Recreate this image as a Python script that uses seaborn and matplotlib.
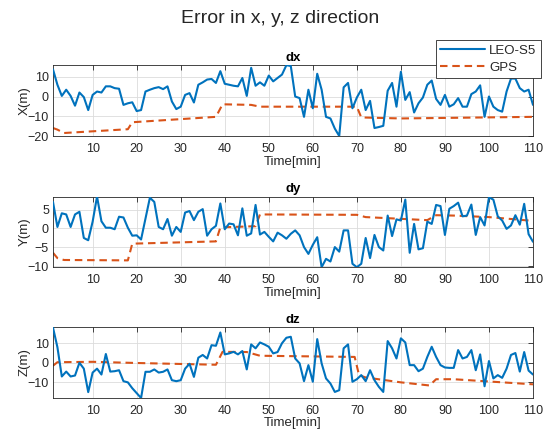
import numpy as np
import pandas as pd
import matplotlib
matplotlib.use("Agg")
import matplotlib.pyplot as plt
import seaborn as sns

# ---------------- data ----------------
time_min = list(range(1, 111))

leo_dx = [13.6, 5.9, 0.3, 3.4, 0.3, -4.6, 2.0, -0.3, -6.8, 0.8,
          2.5, 2.0, 5.1, 5.1, 4.2, 3.9, -4.2, -3.4, -2.9, -7.3,
          -6.8, 2.5, 3.4, 4.2, 4.7, 3.7, 5.1, -2.5, -6.3, -5.1,
          0.8, 1.7, -3.0, 5.9, 7.1, 8.5, 8.8, 6.8, 12.7, 6.4,
          5.9, 5.4, 5.1, 9.3, 0.3, 14.4, 5.4, 7.1, 5.4, 10.5,
          7.6, 9.3, 11.0, 15.7, 15.3, 0.0, -0.8, -10.2, 3.4, -5.9,
          11.4, 3.4, -10.2, -11.0, -16.1, -19.8, 4.6, 6.8, -5.9, -0.5,
          3.4, -6.8, -2.2, -15.8, -15.3, -14.7, 2.9, 6.8, -5.1, 12.4,
          -1.7, 2.2, -8.0, -3.4, -0.5, 5.9, 8.0, -1.2, -4.2, 0.8,
          -5.1, -3.9, -0.8, -5.1, -5.1, 1.2, 2.5, 5.6, -10.2, 0.0,
          -5.1, -6.8, -7.6, 2.5, 9.0, 9.0, 4.2, 2.5, 3.4, -4.2]

leo_dy = [7.0, 0.4, 4.0, 3.7, 0.4, 3.7, 4.4, -2.5, -3.1, 1.8,
          8.4, 1.9, 0.2, 0.2, -0.2, 3.1, 2.9, 0.2, -1.9, -1.8,
          -2.9, 2.6, 8.1, 7.0, 0.4, -0.2, 2.5, -1.9, 0.4, -0.9,
          4.2, 4.6, 2.2, 4.4, 5.1, -1.9, -0.2, 0.7, 6.6, -0.2,
          1.3, 1.1, -1.8, 5.3, -1.9, -1.3, 6.2, -1.6, -0.9, -2.2,
          -3.4, -1.1, -1.8, -2.7, -1.4, -0.5, -1.8, -4.9, -6.7, -4.3,
          -2.3, -10.2, -8.0, -8.7, -4.9, -6.1, -0.5, -0.5, -9.3, -10.2,
          -9.3, -2.5, -7.8, -1.7, -4.9, -5.8, 3.4, -2.0, 2.4, 2.1,
          7.6, -6.4, 1.2, -5.5, -5.2, 1.8, 1.2, 6.2, 5.9, -1.7,
          5.2, 5.9, 6.8, 3.2, 3.4, 6.3, -1.7, 3.0, 0.8, 8.2,
          7.6, 3.2, 2.1, -0.1, 0.8, 3.5, 1.0, 6.5, -1.5, -3.5]

leo_dz = [18.0, 8.0, -7.0, -4.5, -7.0, -6.5, 0.0, -3.0, -15.0, -5.0,
          -3.0, -6.0, 4.5, -4.5, -4.3, -3.8, -9.4, -10.0, -13.0, -15.5,
          -18.0, -4.6, -4.6, -3.4, -5.0, -4.6, -3.4, -8.9, -9.4, -8.9,
          -3.0, -0.5, -7.2, 2.6, 4.0, 2.2, 9.0, 8.7, 15.5, 4.3,
          4.8, 5.6, 4.3, 6.0, -3.4, 9.4, 7.4, 10.4, 9.4, 8.2,
          4.8, 5.5, 10.0, 12.8, 13.3, 2.2, -0.3, -9.4, -1.2, -9.7,
          12.1, -0.3, -8.0, -10.6, -14.9, -14.0, 7.4, 9.4, -9.7, -8.4,
          -6.3, -9.4, -3.8, -8.9, -12.3, -14.9, 11.1, 7.4, 2.2, 12.5,
          10.4, -1.2, -1.2, -4.3, -3.0, 3.0, 8.2, 3.0, -1.2, -2.4,
          -2.6, -2.6, 6.5, 2.2, 3.0, 6.5, -3.8, 4.3, -12.0, 0.9,
          -8.0, -6.3, -7.7, -3.0, 4.0, 5.0, -4.5, 5.5, -4.0, -6.0]

gps_dx_t = [1, 2, 3.5, 18, 19, 38, 39.5, 46, 48, 70, 71, 80, 110]
gps_dx = [-15.8, -16.6, -18.3, -16.4, -12.9, -10.2, -3.9, -4.2, -5.1, -5.1, -10.5, -11.0, -10.2]

gps_dy_t = [1, 2, 3.5, 18, 19, 38, 39, 47, 48, 70, 72, 86, 88, 92, 100, 110]
gps_dy = [-6.4, -7.8, -8.3, -8.4, -4.0, -3.4, 0.3, 0.6, 3.7, 3.6, 3.0, 2.2, 3.5, 3.4, 3.0, 2.0]

gps_dz_t = [1, 2, 10, 20, 38, 39.5, 45, 48, 69.5, 70.5, 72, 80, 86.5, 88, 92, 110]
gps_dz = [-1.5, 0.3, 0.5, -0.1, -1.0, 5.6, 5.5, 3.6, 3.0, -6.3, -7.5, -10.0, -11.6, -8.4, -8.4, -11.0]

titles = ["dx", "dy", "dz"]
ylabels = ["X(m)", "Y(m)", "Z(m)"]
xticks = [10, 20, 30, 40, 50, 60, 70, 80, 90, 100, 110]
yticks = [[-20, -10, 0, 10], [-10, -5, 0, 5], [-10, 0, 10]]
ylims = [(-20, 15.8), (-10.2, 8.4), (-18, 18.3)]
series_names = ["LEO-S5", "GPS"]

# ---------------- style ----------------
sns.set_theme(style="white")
plt.rcParams['font.family'] = ['Liberation Sans', 'DejaVu Sans']

BLUE = "#0072BD"
ORANGE = "#D95319"
DARK = "#262626"

fig = plt.figure(figsize=(5.5, 4.37), dpi=100)

left, width = 53 / 550, 480 / 550
boxes = [(1 - 136.4 / 437, 71.4 / 437),
         (1 - 267.2 / 437, 70.6 / 437),
         (1 - 398.0 / 437, 71.0 / 437)]

leo_all = [leo_dx, leo_dy, leo_dz]
gps_all = [(gps_dx_t, gps_dx), (gps_dy_t, gps_dy), (gps_dz_t, gps_dz)]

axes = []
for i in range(3):
    b, h = boxes[i]
    ax = fig.add_axes([left, b, width, h])
    axes.append(ax)
    df_leo = pd.DataFrame({"t": time_min, "v": leo_all[i]})
    df_gps = pd.DataFrame({"t": gps_all[i][0], "v": gps_all[i][1]})
    sns.lineplot(data=df_leo, x="t", y="v", ax=ax, color=BLUE, lw=1.5,
                 label=series_names[0], zorder=3)
    sns.lineplot(data=df_gps, x="t", y="v", ax=ax, color=ORANGE, lw=1.5,
                 linestyle=(0, (3.6, 2.3)), label=series_names[1], zorder=2)
    ax.set_xlim(1, 110)
    ax.set_ylim(*ylims[i])
    ax.set_xticks(xticks)
    ax.set_yticks(yticks[i])
    ax.grid(True, color="#DCDCDC", lw=0.6)
    ax.set_axisbelow(True)
    for s in ax.spines.values():
        s.set_color(DARK)
        s.set_linewidth(0.6)
    ax.tick_params(direction="in", top=True, right=True, length=3.5, width=0.6,
                   colors=DARK, labelsize=9)
    ax.tick_params(axis="x", pad=4.8)
    ax.tick_params(axis="y", pad=2.9)
    ax.set_title(titles[i], fontsize=9.5, fontweight="bold", color="black", pad=3)
    ax.set_xlabel("Time[min]", fontsize=9.5, color=DARK, labelpad=0.5)
    ax.set_ylabel(ylabels[i], fontsize=9.5, color=DARK)
    ax.yaxis.set_label_coords(-0.046, 0.5)
    if ax.get_legend() is not None:
        ax.get_legend().remove()

handles, labels = axes[0].get_legend_handles_labels()
leg = fig.legend(handles, labels, loc="upper right",
                 bbox_to_anchor=(541 / 550, 1 - 40 / 437),
                 bbox_transform=fig.transFigure,
                 fontsize=9.5, frameon=True, fancybox=False, framealpha=1,
                 edgecolor=DARK, borderaxespad=0, borderpad=0.35,
                 handlelength=3.4, handletextpad=0.3, labelspacing=0.35)
leg.get_frame().set_linewidth(0.6)
for t in leg.get_texts():
    t.set_color(DARK)

fig.suptitle("Error in x, y, z direction", fontsize=14, x=0.51, y=0.978,
             va="top", color=DARK)

fig.savefig("out.png", dpi=100)
